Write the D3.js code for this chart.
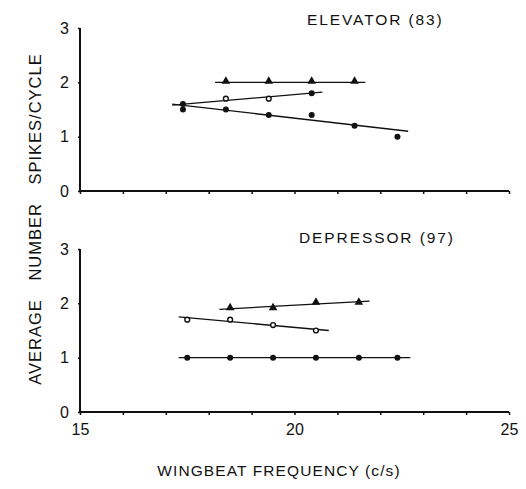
<!DOCTYPE html>
<html><head><meta charset="utf-8">
<script src="https://cdn.jsdelivr.net/npm/d3@7"></script>
<style>
body{margin:0;background:#fff;}
text{font-family:"Liberation Sans",Arial,sans-serif;fill:#111;}
</style></head>
<body>
<svg id="c" width="526" height="489"></svg>
<script>
// ---- data ----
const xTicks = [15, 16, 17, 18, 19, 20, 21, 22, 23, 24, 25];
const xTickLabels = [15, 20, 25];
const yTicks = [0, 1, 2, 3];

// Elevator (83)
const elevTriX = [18.4, 19.4, 20.4, 21.4];
const elevTriY = [2.0, 2.0, 2.0, 2.0];
const elevTriLine = [18.15, 2.0, 21.65, 2.0];
const elevOpenX = [17.4, 18.4, 19.4, 20.4];
const elevOpenY = [1.6, 1.7, 1.7, 1.8];
const elevOpenFilled = [true, false, false, true];
const elevOpenLine = [17.15, 1.58, 20.65, 1.82];
const elevDotX = [17.4, 18.4, 19.4, 20.4, 21.4, 22.4];
const elevDotY = [1.5, 1.5, 1.4, 1.4, 1.2, 1.0];
const elevDotLine = [17.15, 1.6, 22.65, 1.1];

// Depressor (97)
const depTriX = [18.5, 19.5, 20.5, 21.5];
const depTriY = [1.9, 1.9, 2.0, 2.0];
const depTriLine = [18.25, 1.89, 21.75, 2.04];
const depOpenX = [17.5, 18.5, 19.5, 20.5];
const depOpenY = [1.7, 1.7, 1.6, 1.5];
const depOpenLine = [17.3, 1.75, 20.8, 1.5];
const depDotX = [17.5, 18.5, 19.5, 20.5, 21.5, 22.4];
const depDotY = [1.0, 1.0, 1.0, 1.0, 1.0, 1.0];
const depDotLine = [17.3, 1.0, 22.7, 1.0];

// ---- drawing ----
const svg = d3.select("#c");
const x = d3.scaleLinear().domain([15, 25]).range([80, 509]);
const yTop = d3.scaleLinear().domain([0, 3]).range([191, 28]);
const yBot = d3.scaleLinear().domain([0, 3]).range([412, 249]);

function panel(y, title, titleX, titleY, showXLabels, series) {
  const g = svg.append("g");
  const xa = g.append("g").attr("transform", `translate(0,${y(0)})`)
    .call(d3.axisBottom(x).tickValues(xTicks).tickSize(3).tickFormat(d => showXLabels && xTickLabels.includes(d) ? d : ""));
  xa.select(".domain").attr("stroke", "#111").attr("stroke-width", 2).attr("d", `M${x(15)},0H${x(25)}`);
  xa.selectAll(".tick line").attr("stroke", "#111").attr("stroke-width", 1.5);
  xa.selectAll(".tick text").attr("font-size", 16).attr("dy", "0.85em").attr("y", 9).style("font-family", "Liberation Sans, Arial, sans-serif").attr("fill", "#111");
  const ya = g.append("g").attr("transform", `translate(${x(15)},0)`)
    .call(d3.axisLeft(y).tickValues(yTicks).tickSize(2).tickFormat(d3.format("d")));
  ya.select(".domain").attr("stroke", "#111").attr("stroke-width", 2).attr("d", `M0,${y(0)}V${y(3)}`);
  ya.selectAll(".tick line").attr("stroke", "#111").attr("stroke-width", 1.5);
  ya.selectAll(".tick text").attr("font-size", 16).attr("x", -11).style("font-family", "Liberation Sans, Arial, sans-serif").attr("fill", "#111");

  g.append("text").attr("x", titleX).attr("y", titleY).attr("font-size", 15.5)
    .attr("letter-spacing", 1.9).text(title);

  series.forEach(s => {
    g.append("line")
      .attr("x1", x(s.line[0])).attr("y1", y(s.line[1]))
      .attr("x2", x(s.line[2])).attr("y2", y(s.line[3]))
      .attr("stroke", "#111").attr("stroke-width", 1.3);
    s.xs.forEach((xv, i) => {
      const px = x(xv), py = y(s.ys[i]);
      if (s.type === "tri") {
        g.append("path").attr("d", d3.symbol(d3.symbolTriangle, 32)())
          .attr("transform", `translate(${px},${py - 1})`).attr("fill", "#111");
      } else if (s.type === "open" && !(s.filled && s.filled[i])) {
        g.append("circle").attr("cx", px).attr("cy", py).attr("r", 2.4)
          .attr("fill", "#fff").attr("stroke", "#111").attr("stroke-width", 1.4);
      } else {
        g.append("circle").attr("cx", px).attr("cy", py).attr("r", 3).attr("fill", "#111");
      }
    });
  });
}

panel(yTop, "ELEVATOR (83)", 307, 25, false, [
  {type: "tri", xs: elevTriX, ys: elevTriY, line: elevTriLine},
  {type: "open", xs: elevOpenX, ys: elevOpenY, filled: elevOpenFilled, line: elevOpenLine},
  {type: "dot", xs: elevDotX, ys: elevDotY, line: elevDotLine}
]);
panel(yBot, "DEPRESSOR (97)", 299, 243, true, [
  {type: "tri", xs: depTriX, ys: depTriY, line: depTriLine},
  {type: "open", xs: depOpenX, ys: depOpenY, line: depOpenLine},
  {type: "dot", xs: depDotX, ys: depDotY, line: depDotLine}
]);

// axis titles
svg.append("text").attr("x", 279).attr("y", 476).attr("text-anchor", "middle")
  .attr("font-size", 15.5).attr("letter-spacing", 1.1).text("WINGBEAT FREQUENCY (c/s)");
svg.append("text").attr("transform", "translate(41,219) rotate(-90)").attr("text-anchor", "middle")
  .attr("font-size", 16.5).attr("letter-spacing", 1).attr("word-spacing", 13)
  .text("AVERAGE NUMBER SPIKES/CYCLE");
</script>
</body></html>
